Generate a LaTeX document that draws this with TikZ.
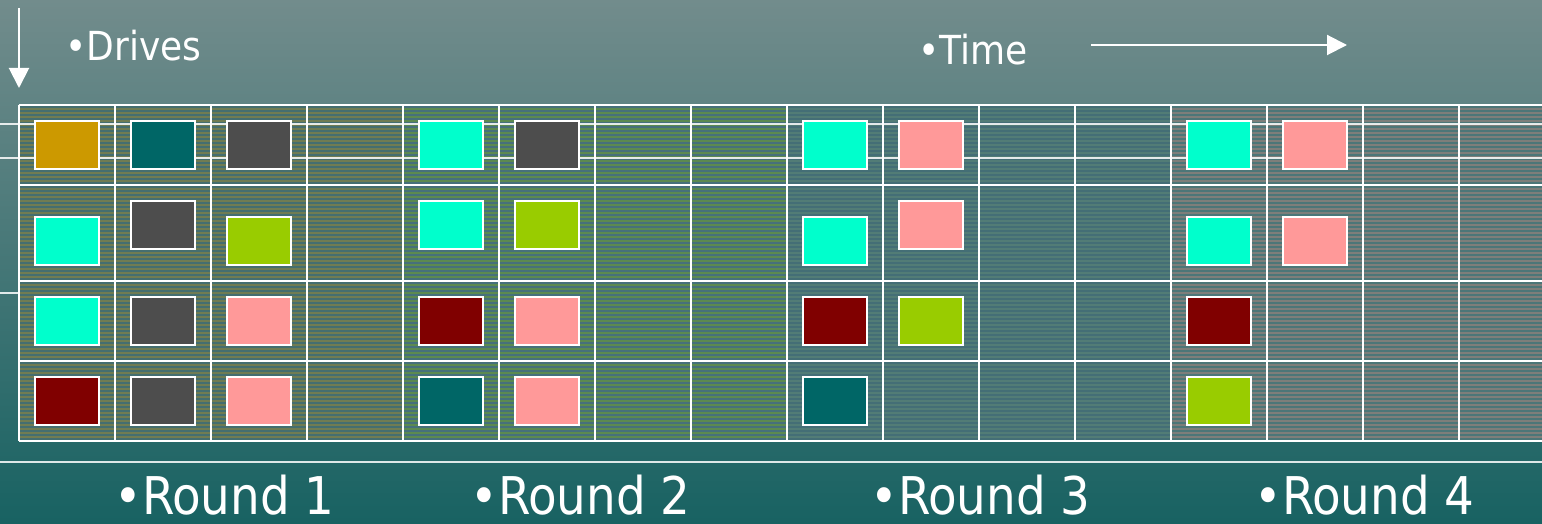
\documentclass[tikz,border=0pt]{standalone}
\usepackage{fontspec}
\setmainfont{DejaVu Sans Condensed}
\usepackage{tikz}
\usetikzlibrary{arrows.meta, positioning}
\definecolor{bgtop}{RGB}{114, 140, 140}
\definecolor{bgbot}{RGB}{24, 98, 98}
\definecolor{roundA}{RGB}{112, 124, 82}
\definecolor{roundB}{RGB}{92, 138, 80}
\definecolor{roundC}{RGB}{82, 124, 118}
\definecolor{roundD}{RGB}{126, 126, 122}
\definecolor{stripeA}{RGB}{68, 110, 112}
\definecolor{stripeB}{RGB}{70, 112, 124}
\definecolor{stripeC}{RGB}{68, 110, 118}
\definecolor{stripeD}{RGB}{76, 118, 120}
\definecolor{jobgold}{RGB}{204, 153, 0}
\definecolor{jobteal}{RGB}{0, 102, 102}
\definecolor{jobgray}{RGB}{77, 77, 77}
\definecolor{jobcyan}{RGB}{0, 255, 204}
\definecolor{jobpink}{RGB}{255, 153, 153}
\definecolor{joblime}{RGB}{153, 204, 0}
\definecolor{jobred}{RGB}{128, 0, 0}
\tikzset{
  jobbox/.style={
    rectangle, draw=white, line width=1pt,
    minimum width=32pt, minimum height=24pt, inner sep=0pt
  },
  gridline/.style={draw=white, line width=1pt},
  guideline/.style={draw=white, line width=0.6pt, opacity=0.85},
  toptext/.style={text=white, font=\fontsize{20}{24}\selectfont, inner sep=0pt, anchor=base west},
  roundtext/.style={text=white, font=\fontsize{26}{30}\selectfont, inner sep=0pt, anchor=base west},
  axisline/.style={
    draw=white, line width=1pt, -{Triangle[length=10pt, width=10pt]}
  }
}

\begin{document}
\begin{tikzpicture}[x=0.5pt, y=-0.5pt]
  \useasboundingbox (0,0) rectangle (1542,524);
  % Background
  \shade[top color=bgtop, bottom color=bgbot] (0,0) rectangle (1542,524);
  \draw[guideline] (0,293) -- (19,293);
  \draw[guideline] (0,462) -- (1542,462);

  % Rounds: striped cell fills
  \foreach \r/\base/\stripe in {0/roundA/stripeA, 1/roundB/stripeB, 2/roundC/stripeC, 3/roundD/stripeD} {
    \fill[\base] ({19+384*\r},105) rectangle ({19+384*(\r+1)},441);
    \foreach \yy in {107,111,...,439}
      \draw[\stripe, line width=0.75pt] ({19+384*\r},\yy) -- ++(384,0);
  }
  \draw[guideline] (0,124) -- (1542,124);
  \draw[guideline] (0,158) -- (1542,158);

  % Grid
  \foreach \k in {0,...,16}
    \draw[gridline] ({19+96*\k},105) -- ({19+96*\k},441);
  \foreach \yy in {105,185,281,361,441}
    \draw[gridline] (19,\yy) -- (1555,\yy);

  % Jobs: column / centre y / colour
  \foreach \c/\y/\clr [count=\i] in {
      0/145/jobgold, 1/145/jobteal, 2/145/jobgray, 4/145/jobcyan, 5/145/jobgray,
      8/145/jobcyan, 9/145/jobpink, 12/145/jobcyan, 13/145/jobpink,
      0/241/jobcyan, 1/225/jobgray, 2/241/joblime, 4/225/jobcyan, 5/225/joblime,
      8/241/jobcyan, 9/225/jobpink, 12/241/jobcyan, 13/241/jobpink,
      0/321/jobcyan, 1/321/jobgray, 2/321/jobpink, 4/321/jobred, 5/321/jobpink,
      8/321/jobred, 9/321/joblime, 12/321/jobred,
      0/401/jobred, 1/401/jobgray, 2/401/jobpink, 4/401/jobteal, 5/401/jobpink,
      8/401/jobteal, 12/401/joblime}
    \node[jobbox, fill=\clr] (job\i) at ({67+96*\c},\y) {};

  % Axes
  \coordinate (drivestop) at (19,8);
  \coordinate (drivesend) at (19,88);
  \draw[axisline] (drivestop) -- (drivesend);
  \node[toptext] (drives) at (65,61) {•Drives};

  \node[toptext] (time) at (918,65) {•Time};
  \coordinate (timestart) at (1091,45);
  \coordinate (timeend) at (1347,45);
  \draw[axisline] (timestart) -- (timeend);

  % Round labels
  \node[roundtext] (round1) at (114,514) {•Round 1};
  \node[roundtext] (round2) at (470,514) {•Round 2};
  \node[roundtext] (round3) at (870,514) {•Round 3};
  \node[roundtext] (round4) at (1254,514) {•Round 4};
\end{tikzpicture}
\end{document}
